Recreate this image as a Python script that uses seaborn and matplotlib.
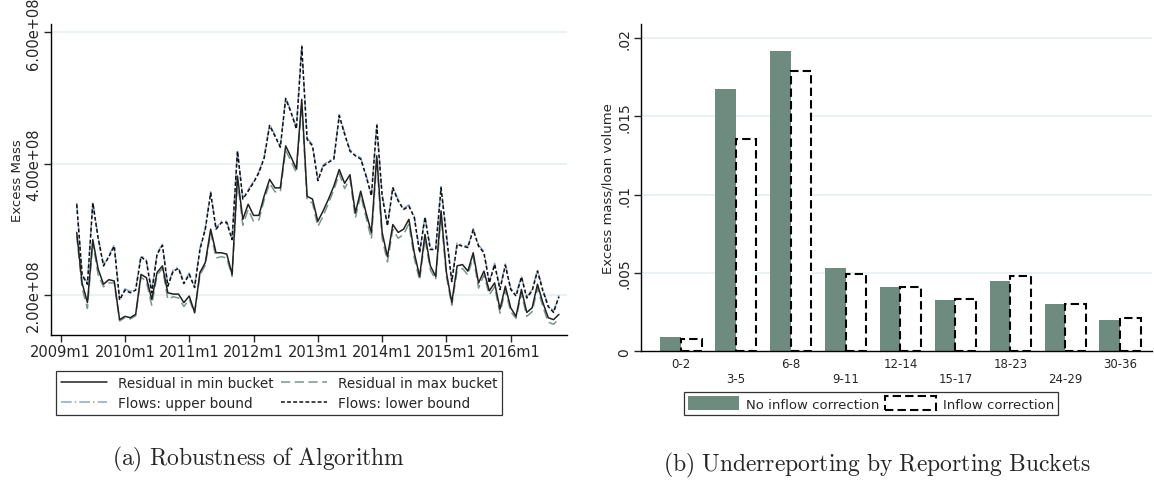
import numpy as np
import pandas as pd
import matplotlib
matplotlib.use("Agg")
import matplotlib.pyplot as plt
import seaborn as sns
from matplotlib.patches import Patch
from matplotlib.lines import Line2D

# ---------------- data: panel (a) ----------------
# months since 2009m1 (2009m4 .. 2016m10)
start_month = 3
n_months = 91
year_tick_labels = ["2009m1", "2010m1", "2011m1", "2012m1",
                    "2013m1", "2014m1", "2015m1", "2016m1"]

# values in units of 1e8
resid_min = [2.95, 2.18, 1.88, 2.84, 2.39, 2.16, 2.23, 2.21, 1.62, 1.67,
             1.65, 1.70, 2.31, 2.26, 1.93, 2.34, 2.44, 2.03, 2.01, 2.01,
             1.88, 1.98, 1.73, 2.34, 2.49, 3.00, 2.64, 2.64, 2.62, 2.31,
             3.81, 3.15, 3.38, 3.21, 3.21, 3.51, 3.76, 3.63, 3.63, 4.27,
             4.10, 3.92, 4.98, 3.50, 3.46, 3.12, 3.28, 3.46, 3.66, 3.91,
             3.70, 3.83, 3.25, 3.58, 3.25, 2.95, 4.12, 2.95, 2.58, 3.07,
             2.95, 3.00, 3.15, 2.64, 2.28, 2.92, 2.44, 2.28, 3.28, 2.34,
             1.88, 2.44, 2.46, 2.36, 2.64, 2.18, 2.36, 2.06, 2.18, 1.78,
             2.13, 1.80, 1.67, 2.08, 1.73, 1.80, 2.16, 1.88, 1.65, 1.62,
             1.70]
resid_max = [2.90, 2.10, 1.79, 2.80, 2.30, 2.12, 2.18, 2.18, 1.60, 1.65,
             1.63, 1.68, 2.27, 2.20, 1.84, 2.30, 2.40, 1.93, 1.97, 1.95,
             1.82, 1.93, 1.72, 2.30, 2.45, 2.95, 2.56, 2.58, 2.56, 2.28,
             3.75, 3.06, 3.30, 3.12, 3.14, 3.45, 3.70, 3.57, 3.57, 4.20,
             4.04, 3.86, 4.90, 3.44, 3.40, 3.04, 3.20, 3.40, 3.60, 3.85,
             3.62, 3.77, 3.17, 3.52, 3.18, 2.85, 4.05, 2.86, 2.50, 3.00,
             2.86, 2.92, 3.08, 2.56, 2.22, 2.85, 2.38, 2.23, 3.20, 2.28,
             1.84, 2.36, 2.40, 2.30, 2.58, 2.10, 2.30, 2.00, 2.12, 1.72,
             2.07, 1.74, 1.64, 2.02, 1.67, 1.74, 2.10, 1.82, 1.58, 1.55,
             1.63]
flows_upper = [3.40, 2.32, 2.18, 3.42, 2.88, 2.46, 2.60, 2.76, 1.94, 2.09,
               2.05, 2.09, 2.60, 2.53, 2.05, 2.64, 2.77, 2.15, 2.38, 2.42,
               2.19, 2.33, 2.13, 2.71, 3.02, 3.57, 3.02, 3.12, 3.12, 2.86,
               4.21, 3.48, 3.60, 3.73, 3.88, 4.11, 4.60, 4.44, 4.27, 5.01,
               4.80, 4.55, 5.80, 4.39, 4.29, 3.76, 3.98, 4.04, 4.09, 4.75,
               4.47, 4.21, 4.14, 4.09, 3.83, 3.53, 4.60, 3.53, 3.07, 3.65,
               3.45, 3.32, 3.37, 3.20, 2.66, 3.20, 2.71, 2.71, 3.65, 2.92,
               2.22, 2.79, 2.76, 2.74, 3.01, 2.76, 2.66, 2.20, 2.48, 2.10,
               2.47, 2.10, 2.00, 2.29, 1.97, 2.08, 2.38, 2.08, 1.84, 1.75,
               1.99]
flows_lower = [3.38, 2.30, 2.16, 3.40, 2.86, 2.44, 2.58, 2.74, 1.92, 2.07,
               2.03, 2.07, 2.58, 2.51, 2.03, 2.62, 2.75, 2.13, 2.36, 2.40,
               2.17, 2.31, 2.11, 2.69, 3.00, 3.55, 3.00, 3.10, 3.10, 2.84,
               4.19, 3.46, 3.58, 3.71, 3.86, 4.09, 4.58, 4.42, 4.25, 4.99,
               4.78, 4.53, 5.78, 4.37, 4.27, 3.74, 3.96, 4.02, 4.07, 4.73,
               4.45, 4.19, 4.12, 4.07, 3.81, 3.51, 4.58, 3.51, 3.05, 3.63,
               3.43, 3.30, 3.35, 3.18, 2.64, 3.18, 2.69, 2.69, 3.63, 2.90,
               2.20, 2.77, 2.74, 2.72, 2.99, 2.74, 2.64, 2.18, 2.46, 2.08,
               2.45, 2.08, 1.98, 2.27, 1.95, 2.06, 2.36, 2.06, 1.82, 1.73,
               1.97]

# ---------------- data: panel (b) ----------------
buckets = ["0-2", "3-5", "6-8", "9-11", "12-14", "15-17", "18-23", "24-29", "30-36"]
no_inflow = [0.00093, 0.01675, 0.01920, 0.00532, 0.00413, 0.00326, 0.00447, 0.00300, 0.00198]
inflow = [0.00079, 0.01356, 0.01792, 0.00494, 0.00413, 0.00336, 0.00483, 0.00302, 0.00211]
series_names = ["No inflow correction", "Inflow correction"]

# ---------------- style ----------------
sns.set_style("ticks")
plt.rcParams["font.family"] = ["DejaVu Sans"]
plt.rcParams["mathtext.fontset"] = "cm"

GREEN = "#6e8b80"
GREEN_LINE = "#7a978b"
BLUE = "#8ea6c6"
DARK = "#222222"
GRID = "#e8f0f1"

fig = plt.figure(figsize=(11.54, 4.85), dpi=100)
ax1 = fig.add_axes([0.0442, 0.3078, 0.4471, 0.6407])
ax2 = fig.add_axes([0.5555, 0.2736, 0.4425, 0.6749])

# ---------------- panel (a) ----------------
x = np.arange(start_month, start_month + n_months)
lw = 1.1
sns.lineplot(x=x, y=np.array(resid_max) * 1e8, ax=ax1, color=GREEN_LINE,
             linestyle=(0, (6, 3)), linewidth=lw)
sns.lineplot(x=x, y=np.array(flows_upper) * 1e8, ax=ax1, color=BLUE,
             linestyle=(0, (7, 2, 1, 2)), linewidth=lw)
sns.lineplot(x=x, y=np.array(resid_min) * 1e8, ax=ax1, color=DARK,
             linestyle="-", linewidth=lw)
sns.lineplot(x=x, y=np.array(flows_lower) * 1e8, ax=ax1, color="#111111",
             linestyle=(0, (2.5, 1.5)), linewidth=lw)

ax1.set_xlim(-1.8, 94.5)
ax1.set_ylim(1.39e8, 6.13e8)
ax1.set_xticks(np.arange(0, 96, 12)[:len(year_tick_labels)])
ax1.set_xticklabels(year_tick_labels, fontsize=10.5)
ax1.set_yticks([2e8, 4e8, 6e8])
ax1.set_yticklabels(["2.00e+08", "4.00e+08", "6.00e+08"], rotation=90,
                    va="center", fontsize=10.5)
ax1.set_ylabel("Excess Mass", fontsize=9.5, labelpad=2)
ax1.set_xlabel("")
for y in [2e8, 4e8, 6e8]:
    ax1.axhline(y, color=GRID, lw=1.3, zorder=0)
sns.despine(ax=ax1)
ax1.tick_params(length=5, width=1, pad=2)
for s in ["left", "bottom"]:
    ax1.spines[s].set_linewidth(1.0)
    ax1.spines[s].set_color("black")

h_min = Line2D([], [], color=DARK, lw=lw, ls="-")
h_max = Line2D([], [], color=GREEN_LINE, lw=lw, ls=(0, (6, 3)))
h_up = Line2D([], [], color=BLUE, lw=lw, ls=(0, (7, 2, 1, 2)))
h_lo = Line2D([], [], color="#111111", lw=lw, ls=(0, (2.5, 1.5)))
# column-major fill so rows read: min | max ; upper | lower
handles_a = [h_min, h_up, h_max, h_lo]
labels_a = ["Residual in min bucket", "Flows: upper bound",
            "Residual in max bucket", "Flows: lower bound"]
leg_a = fig.legend(handles_a, labels_a, ncol=2, loc="center",
                   bbox_to_anchor=(0.2419, 0.1873), fontsize=9.8,
                   frameon=True, fancybox=False, edgecolor="black",
                   handlelength=3.4, handletextpad=0.8, columnspacing=0.5,
                   borderpad=0.35, labelspacing=0.45)
leg_a.get_frame().set_linewidth(0.9)

# ---------------- panel (b) ----------------
df = pd.DataFrame({
    "bucket": buckets * 2,
    "value": no_inflow + inflow,
    "series": [series_names[0]] * len(buckets) + [series_names[1]] * len(buckets),
})
sns.barplot(data=df, x="bucket", y="value", hue="series", hue_order=series_names,
            palette=[GREEN, "white"], saturation=1, width=0.76, ax=ax2,
            legend=False, order=buckets)
for p in ax2.containers[0]:
    p.set_linewidth(0)
for p in ax2.containers[1]:
    p.set_edgecolor("black")
    p.set_linestyle((0, (4, 2)))
    p.set_linewidth(1.5)

ax2.set_xlim(-0.72, 8.57)
ax2.set_ylim(0, 0.0209)
ax2.set_yticks([0, 0.005, 0.01, 0.015, 0.02])
ax2.set_yticklabels(["0", ".005", ".01", ".015", ".02"], rotation=90,
                    va="center", fontsize=10)
ax2.set_xticks(range(len(buckets)))
ax2.set_xticklabels([b if i % 2 == 0 else "\n" + b for i, b in enumerate(buckets)],
                    fontsize=8.5)
ax2.set_xlabel("")
ax2.set_ylabel("Excess mass/loan volume", fontsize=9.5, labelpad=2)
for y in [0.005, 0.01, 0.015, 0.02]:
    ax2.axhline(y, color=GRID, lw=1.3, zorder=0)
ax2.set_axisbelow(True)
sns.despine(ax=ax2)
ax2.tick_params(length=5, width=1, pad=2)
ax2.tick_params(axis="x", length=0, pad=4)
for s in ["left", "bottom"]:
    ax2.spines[s].set_linewidth(1.0)
    ax2.spines[s].set_color("black")

handles_b = [Patch(facecolor=GREEN, edgecolor=GREEN, lw=0),
             Patch(facecolor="white", edgecolor="black", ls=(0, (4, 2)), lw=1.5)]
leg_b = fig.legend(handles_b, series_names, ncol=2, loc="center",
                   bbox_to_anchor=(0.7546, 0.166), fontsize=9.5,
                   frameon=True, fancybox=False, edgecolor="black",
                   handlelength=3.9, handleheight=1.2, handletextpad=0.5,
                   columnspacing=0.4, borderpad=0.3)
leg_b.get_frame().set_linewidth(0.9)

# ---------------- captions ----------------
fig.text(0.2244, 0.053, r"$\mathrm{(a)\ Robustness\ of\ Algorithm}$",
         fontsize=17, ha="center", va="center")
fig.text(0.7597, 0.040, r"$\mathrm{(b)\ Underreporting\ by\ Reporting\ Buckets}$",
         fontsize=17, ha="center", va="center")

fig.savefig("out.png", dpi=100)
